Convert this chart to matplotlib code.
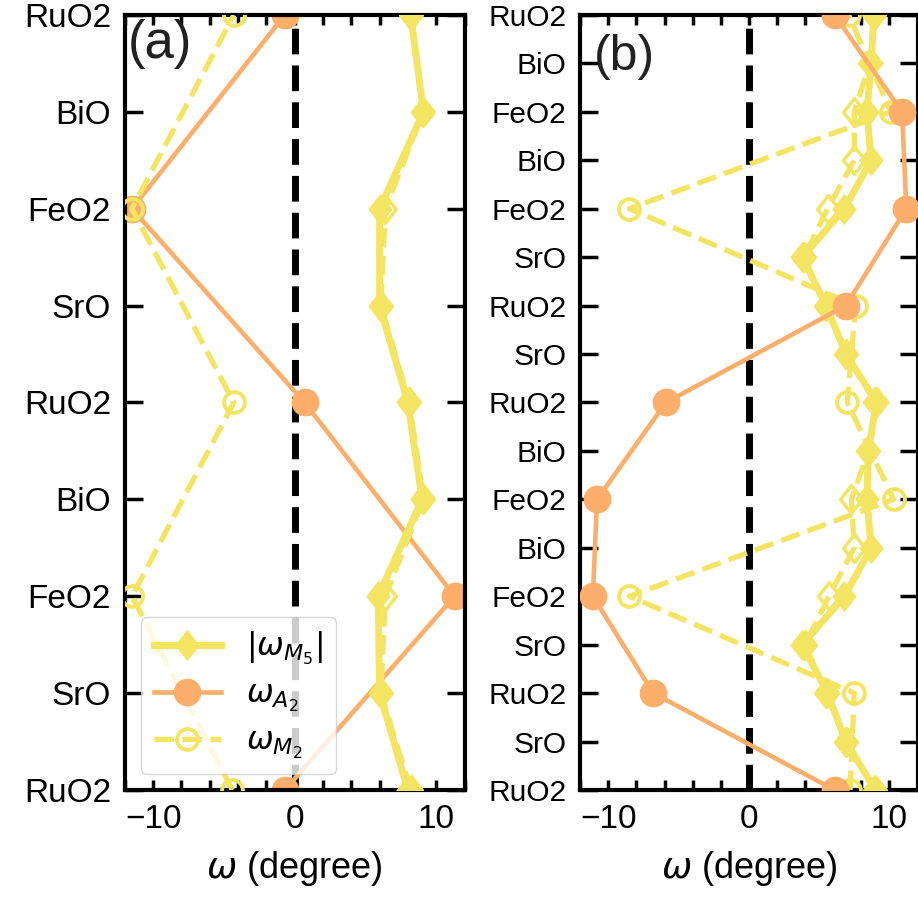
import numpy as np
import matplotlib
matplotlib.use("Agg")
import matplotlib.pyplot as plt
from matplotlib.path import Path

plt.rcParams['font.family'] = ['Liberation Sans', 'DejaVu Sans']
plt.rcParams['mathtext.fontset'] = 'dejavusans'

# layer labels, bottom -> top
layers_a = ['RuO2', 'SrO', 'FeO2', 'BiO', 'RuO2', 'SrO', 'FeO2', 'BiO', 'RuO2']
layers_b = ['RuO2', 'SrO', 'RuO2', 'SrO', 'FeO2', 'BiO', 'FeO2', 'BiO', 'RuO2',
            'SrO', 'RuO2', 'SrO', 'FeO2', 'BiO', 'FeO2', 'BiO', 'RuO2']

# panel (a): |w_M5| on every layer, w_A2 / w_M2 on B-site layers (even index)
a_m5 = [8.0, 6.0, 5.9, 9.0, 8.0, 6.0, 6.0, 9.1, 8.2]
a_m5_dash = [8.2, 6.1, 6.4, 9.1, 8.1, 6.1, 6.4, 9.1, 8.2]
a_a2 = [-0.7, 11.3, 0.7, -11.5, -0.7]
a_m2 = [-4.4, -11.5, -4.3, -11.5, -4.3]

# panel (b)
b_m5 = [9.0, 6.9, 5.6, 3.8, 6.8, 8.7, 8.4, 8.5, 9.1, 6.9, 5.5, 3.8, 6.8, 8.7, 8.4, 8.7, 8.9]
b_m5_dash = [9.0, 6.9, 5.5, 4.0, 5.7, 7.5, 7.3, 8.5, 9.0, 6.9, 5.5, 3.9, 5.6, 7.5, 7.5, 8.6, 8.9]
b_a2 = [6.1, -6.8, -11.1, -10.8, -5.9, 6.9, 11.2, 10.9, 6.1]
b_m2 = [7.2, 7.5, -8.5, 10.3, 7.0, 7.6, -8.5, 10.1, 7.1]

yellow = '#f3e462'
orange = '#fdae6b'
diamond = Path([(0, 1), (0.78, 0), (0, -1), (-0.78, 0), (0, 1)], closed=True)


def draw_panel(ax, layers, m5, m5_dash, a2, m2, ylabsize, a2_on_top):
    y_all = np.arange(len(layers))
    y_even = y_all[::2]
    ax.axvline(0, color='k', ls='--', lw=5, zorder=1)
    z_or = 5 if a2_on_top else 2
    la2, = ax.plot(a2, y_even, '-', color=orange, lw=3.3, marker='o', ms=19,
                   mec=orange, mfc=orange, zorder=z_or, label=r'$\omega_{A_2}$')
    ax.plot(m5_dash, y_all, '--', color=yellow, lw=3.8, marker=diamond, ms=20,
            mfc='none', mec=yellow, mew=2.5, zorder=3)
    lm5, = ax.plot(m5, y_all, '-', color=yellow, lw=5, marker=diamond, ms=21,
                   mec=yellow, mfc=yellow, zorder=3, label=r'$|\omega_{M_5}|$')
    lm2, = ax.plot(m2, y_even, '--', color=yellow, lw=3.8, marker='o', ms=15,
                   mfc='none', mec=yellow, mew=2.8, zorder=4, label=r'$\omega_{M_2}$')

    ax.set_xlim(-12, 12)
    ax.set_ylim(0, len(layers) - 1)
    ax.set_xticks([-10, 0, 10])
    ax.set_xticks(np.arange(-12, 13, 2), minor=True)
    ax.set_yticks(y_all)
    ax.set_yticklabels(layers)
    ax.tick_params(axis='x', which='both', direction='in', top=True, length=7,
                   width=2.5, labelsize=24, pad=10)
    ax.tick_params(axis='y', which='both', direction='in', right=True, length=13,
                   width=2.5, labelsize=ylabsize, pad=10)
    for sp in ax.spines.values():
        sp.set_linewidth(3)
    ax.set_xlabel(r'$\omega$ (degree)', fontsize=26, labelpad=10)
    return lm5, la2, lm2


fig = plt.figure(figsize=(9.18, 8.98), dpi=100)
ax1 = fig.add_axes([0.136, 0.1203, 0.370, 0.863])
ax2 = fig.add_axes([0.632, 0.1203, 0.3675, 0.863])

handles = draw_panel(ax1, layers_a, a_m5, a_m5_dash, a_a2, a_m2, 24, False)
draw_panel(ax2, layers_b, b_m5, b_m5_dash, b_a2, b_m2, 21.5, True)

ax1.legend(handles=list(handles), loc='lower left', fontsize=23,
           handlelength=2.1, labelspacing=0.4)

ax1.text(0.01, 0.995, '(a)', transform=ax1.transAxes, fontsize=38,
         va='top', ha='left', color='#222222')
ax2.text(0.04, 0.975, '(b)', transform=ax2.transAxes, fontsize=36,
         va='top', ha='left', color='#222222')

fig.savefig('out.png', dpi=100)
